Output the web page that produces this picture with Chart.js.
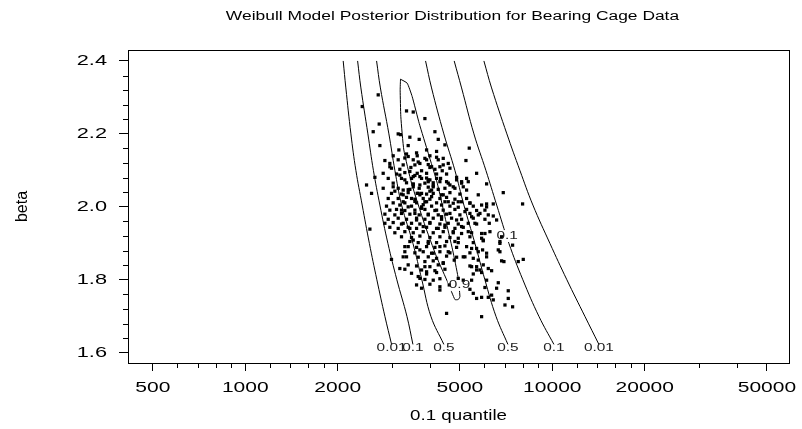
<!DOCTYPE html>
<html>
<head>
<meta charset="utf-8">
<script src="https://cdn.jsdelivr.net/npm/chart.js@4.4.1/dist/chart.umd.min.js"></script>
<style>
  html, body { margin: 0; padding: 0; background: #fff; }
  #wrap { width: 802px; height: 429px; }
</style>
</head>
<body>
<div id="wrap"><canvas id="myChart" width="802" height="429"></canvas></div>
<script>
// axis ticks
const majorQuantiles = [500, 1000, 2000, 5000, 10000, 20000, 50000];
const minorQuantiles = [600, 700, 800, 900, 1200, 1400, 1600, 1800, 3000, 4000,
  6000, 7000, 8000, 9000, 12000, 14000, 16000, 18000, 30000, 40000];
const majorBetas = [1.6, 1.8, 2.0, 2.2, 2.4];
const minorBetas = [1.64, 1.68, 1.72, 1.76, 1.84, 1.88, 1.92, 1.96,
  2.04, 2.08, 2.12, 2.16, 2.24, 2.28, 2.32, 2.36];

// open contours, read at these beta levels
const contourBeta = [2.4, 2.326, 2.2, 2.1, 2.005, 1.9, 1.8, 1.7, 1.623];
const leftQ001 = [2084, 2126, 2208, 2292, 2403, 2536, 2683, 2849, 2996];
const leftQ01 = [2322, 2380, 2508, 2614, 2744, 2914, 3117, 3361, 3516];
const leftQ05 = [2677, 2755, 2936, 3071, 3230, 3516, 3759, 4022, 4433];
const rightQ05 = [3865, 4043, 4433, 4816, 5152, 5597, 6032, 6554, 7167];
const rightQ01 = [4791, 5064, 5555, 6077, 6589, 7220, 8019, 9043, 10119];
const rightQ001 = [5987, 6342, 7113, 7841, 8644, 9820, 11155, 12766, 14182];

// closed 0.9 contour
const ring90Q = [3203, 3368, 3497, 3685, 3944, 4219, 4469, 4734, 4927, 5001,
  4939, 4817, 4582, 4198, 3827, 3479, 3284, 3211, 3195, 3203];
const ring90Beta = [2.350, 2.339, 2.302, 2.229, 2.147, 2.065, 1.973, 1.882, 1.809, 1.754,
  1.746, 1.746, 1.790, 1.863, 1.955, 2.065, 2.156, 2.247, 2.320, 2.350];

// contour labels
const labelText = ["0.01", "0.1", "0.5", "0.5", "0.1", "0.01", "0.9", "0.1"];
const labelQ = [2996, 3516, 4433, 7167, 10119, 14182, 4985, 7129];
const labelBeta = [1.613, 1.613, 1.613, 1.613, 1.613, 1.613, 1.786, 1.920];

// posterior draws
const drawQ = [
  2710, 2404, 3351, 3524, 3846, 2730, 2610, 4146, 3148, 3203, 3436, 3685, 4251, 2744, 3393, 4469, 5364,
  3164, 3895, 3032, 3351, 3631, 3993, 4198, 5232, 2849, 3148, 3524, 3895, 4413, 2957, 3268, 3704, 4582,
  2994, 3187, 3462, 3993, 4146, 4304, 4640, 2813, 3109, 3309, 3631, 3895, 4198, 4525, 2921, 3227, 3479, 3751, 3993, 4326, 4878, 5258, 5324,
  3032, 3351, 3524, 3846, 4094, 4582, 5064, 2483, 4757, 2813, 3148, 3436, 3685, 3944, 4251, 4469, 2578, 2994, 3227, 3393, 3631, 3895, 4094, 4640, 5001, 6109, 6922,
  2921, 3148, 3351, 3568, 3798, 3993, 4304, 4525, 4817, 5258, 3032, 3268, 3613, 3895, 4198, 4469, 4757, 5064, 5391,
  2884, 3187, 3479, 3751, 4044, 4358, 4640, 4939, 5528, 5884, 6109, 6422, 8002, 2957, 3109, 3309, 3568, 3846, 4146, 4413, 4817, 5258, 5668, 6033,
  2849, 3070, 3227, 3436, 3685, 3944, 4251, 4525, 5001, 5391, 5739, 6186, 6422, 2921, 3148, 3351, 3613, 3846, 4094, 4358, 4698, 5064, 5528, 6033,
  2849, 3032, 3227, 3479, 3704, 3993, 4304, 4582, 4939, 5324, 5668, 6233, 2546, 2957, 3148, 3393, 3613, 3895, 4198, 4469, 4817, 5128,
  3070, 3309, 3524, 3798, 4094, 4413, 4757, 5064, 5459, 6033, 3227, 3479, 3704, 3993, 4304, 4640, 4939, 5391, 5884,
  3436, 3658, 3944, 4198, 4525, 4939, 5528, 5958, 6751, 7424, 3393, 3613, 3895, 4146, 4469, 4878, 5258, 5668, 5928, 6668,
  3309, 3568, 3798, 4044, 4304, 4640, 5391, 5739, 6109, 6751, 3268, 3658, 3944, 4198, 4525, 4878, 5193, 5528, 6109,
  2994, 3846, 4094, 4413, 4793, 6836, 6957, 8042, 7745, 3393, 3613, 3993, 4251, 5391, 5668, 5958, 3187, 3309, 3751, 4146, 4469, 5668, 6186, 6343,
  3479, 3895, 4198, 5528, 5884, 3704, 3846, 4094, 4304, 4939, 5128, 6109, 3613, 3993, 4304, 4617, 6668, 3751, 4304, 5391, 6033, 6585, 5528, 6343, 7186, 6186, 5884, 5668, 6422, 7186, 7011, 7424, 4525, 5884,
  3309, 3524, 3704, 3944, 4094, 4304, 4640, 4817, 5064, 5258, 5668, 5739, 3268, 3479, 3658, 3846, 4044, 4413, 4582, 4939, 5391,
  3227, 3393, 3568, 3751, 3944, 4198, 4358, 4640, 4878, 5193, 5459, 5811, 6109,
  3268, 3436, 3613, 3798, 3993, 4251, 4469, 4757, 5064, 5324, 5597, 5884, 6264, 6585, 6836,
  3309, 3524, 3704, 3944, 4094, 4304, 4582, 4817, 5128, 5459, 5739, 5958, 6751, 3351, 3846, 4413, 5459, 5811, 3658, 3895, 5459,
  2957, 3393, 3568, 3846, 4044, 4251, 4413, 3187, 3704, 3944, 4198, 4525, 4878, 5128, 3032, 3268, 3524, 3751, 4044, 4358,
  3309, 3613, 4198, 3658, 3944, 3436, 3751, 4380, 3568, 3895, 2643, 3524, 4094, 3070, 3393, 3993, 3704, 3309, 3568, 3798
];
const drawBeta = [
  2.307, 2.275, 2.263, 2.260, 2.242, 2.227, 2.206, 2.206, 2.200, 2.198, 2.191, 2.185, 2.185, 2.168, 2.168, 2.170, 2.161,
  2.156, 2.156, 2.140, 2.145, 2.140, 2.140, 2.136, 2.127, 2.127, 2.129, 2.129, 2.129, 2.133, 2.119, 2.115, 2.119, 2.119,
  2.106, 2.103, 2.108, 2.108, 2.103, 2.110, 2.106, 2.092, 2.090, 2.094, 2.092, 2.092, 2.090, 2.090, 2.078, 2.078, 2.078, 2.078, 2.074, 2.078, 2.081, 2.078, 2.069,
  2.065, 2.066, 2.063, 2.065, 2.066, 2.065, 2.069, 2.060, 2.055, 2.051, 2.051, 2.048, 2.051, 2.054, 2.048, 2.051, 2.037, 2.037, 2.035, 2.039, 2.037, 2.035, 2.037, 2.039, 2.035, 2.063, 2.039,
  2.023, 2.023, 2.026, 2.021, 2.023, 2.021, 2.023, 2.026, 2.021, 2.023, 2.011, 2.014, 2.011, 2.014, 2.011, 2.014, 2.010, 2.014, 2.011,
  2.002, 2.005, 2.002, 2.000, 2.002, 2.005, 2.002, 1.999, 2.002, 2.005, 2.008, 2.008, 2.008, 1.991, 1.993, 1.990, 1.991, 1.993, 1.990, 1.991, 1.993, 1.993, 1.990, 1.991,
  1.980, 1.978, 1.982, 1.980, 1.978, 1.980, 1.978, 1.980, 1.978, 1.982, 1.978, 1.978, 1.975, 1.966, 1.969, 1.966, 1.969, 1.966, 1.969, 1.966, 1.969, 1.966, 1.969, 1.966,
  1.955, 1.957, 1.953, 1.955, 1.953, 1.957, 1.953, 1.955, 1.953, 1.955, 1.953, 1.955, 1.939, 1.944, 1.941, 1.944, 1.941, 1.944, 1.941, 1.944, 1.941, 1.944,
  1.929, 1.932, 1.929, 1.932, 1.929, 1.932, 1.929, 1.927, 1.929, 1.927, 1.918, 1.916, 1.920, 1.916, 1.918, 1.916, 1.914, 1.918, 1.914,
  1.905, 1.902, 1.905, 1.902, 1.905, 1.902, 1.902, 1.907, 1.905, 1.895, 1.891, 1.889, 1.891, 1.889, 1.893, 1.889, 1.891, 1.886, 1.882, 1.882,
  1.877, 1.874, 1.877, 1.873, 1.877, 1.874, 1.874, 1.877, 1.873, 1.877, 1.863, 1.862, 1.863, 1.859, 1.865, 1.862, 1.863, 1.859, 1.863,
  1.856, 1.850, 1.852, 1.847, 1.854, 1.852, 1.850, 1.856, 1.850, 1.841, 1.838, 1.836, 1.841, 1.838, 1.836, 1.841, 1.831, 1.829, 1.827, 1.825, 1.829, 1.827, 1.831, 1.825,
  1.818, 1.816, 1.820, 1.816, 1.820, 1.804, 1.801, 1.799, 1.803, 1.804, 1.799, 1.799, 1.786, 1.788, 1.781, 1.786, 1.792, 1.777, 1.772, 1.774, 1.779, 1.777, 1.763, 1.758, 1.770, 1.752, 1.752, 1.749, 1.745, 1.749, 1.731, 1.726, 1.708, 1.699,
  2.074, 2.083, 2.060, 2.074, 2.055, 2.069, 2.060, 2.051, 2.065, 2.046, 2.092, 2.033, 2.033, 2.023, 2.037, 2.014, 2.028, 2.033, 2.014, 2.014, 2.010,
  1.991, 2.000, 1.982, 1.996, 1.978, 1.991, 1.973, 1.982, 1.964, 1.987, 1.973, 1.982, 2.000,
  1.955, 1.941, 1.964, 1.946, 1.955, 1.941, 1.950, 1.932, 1.946, 1.932, 1.955, 1.927, 1.932, 1.964, 1.918,
  1.891, 1.909, 1.882, 1.900, 1.873, 1.891, 1.877, 1.905, 1.863, 1.886, 1.854, 1.909, 1.900, 1.863, 1.836, 1.845, 1.836, 1.827, 1.809, 1.822, 1.799,
  2.110, 2.138, 2.115, 2.133, 2.110, 2.129, 2.115, 2.087, 2.083, 2.069, 2.078, 2.069, 2.074, 2.055, 2.055, 2.046, 2.055, 2.037, 2.046, 2.033,
  2.134, 2.148, 2.152, 2.123, 2.116, 2.097, 2.099, 2.099, 2.086, 2.079, 2.081, 2.061, 2.059, 2.043, 2.047, 2.043, 2.033, 2.011, 2.015, 2.006
];

const FONT = "'Liberation Sans', Arial, Helvetica, sans-serif";
Chart.defaults.font.family = FONT;
Chart.defaults.color = "#000";

const toPoints = (qs, bs) => qs.map((q, i) => ({ x: q, y: bs[i] }));

const contourLine = (qs, bs, tension) => ({
  data: toPoints(qs, bs),
  showLine: true,
  borderColor: "#000",
  borderWidth: 1,
  pointRadius: 0,
  tension: tension,
  fill: false,
});

// horizontal text in the original is drawn wide, so stretch it
function wideText(ctx, text, x, y, align, size, stretch, color) {
  ctx.save();
  ctx.font = size + "px " + FONT;
  ctx.fillStyle = color || "#000";
  ctx.textAlign = align;
  ctx.textBaseline = "middle";
  ctx.translate(x, y);
  ctx.scale(stretch, 1);
  ctx.fillText(text, 0, 0);
  ctx.restore();
}

// frame on all four sides, minor ticks, tick labels and titles
const frameAndText = {
  id: "frameAndText",
  afterDraw(chart) {
    const { ctx, chartArea: a, scales } = chart;
    ctx.save();
    ctx.strokeStyle = "#000";
    ctx.lineWidth = 1;
    ctx.strokeRect(Math.round(a.left) + 0.5, Math.round(a.top) + 0.5,
      Math.round(a.right - a.left), Math.round(a.bottom - a.top));
    ctx.beginPath();
    minorQuantiles.forEach((q) => {
      const px = Math.round(scales.x.getPixelForValue(q)) + 0.5;
      ctx.moveTo(px, a.bottom);
      ctx.lineTo(px, a.bottom + 5);
    });
    minorBetas.forEach((b) => {
      const py = Math.round(scales.y.getPixelForValue(b)) + 0.5;
      ctx.moveTo(a.left, py);
      ctx.lineTo(a.left - 5, py);
    });
    ctx.stroke();
    ctx.restore();

    majorQuantiles.forEach((q) => {
      wideText(ctx, String(q), scales.x.getPixelForValue(q), a.bottom + 25, "center", 15, 1.4);
    });
    majorBetas.forEach((b) => {
      wideText(ctx, b.toFixed(1), a.left - 21, scales.y.getPixelForValue(b), "right", 15, 1.45);
    });
    const cx = (a.left + a.right) / 2;
    wideText(ctx, "0.1 quantile", cx, a.bottom + 53, "center", 15, 1.25);
    wideText(ctx, "Weibull Model Posterior Distribution for Bearing Cage Data", cx - 6, 17, "center", 12, 1.45);
  },
};

// contour level labels, with a white gap for the ones sitting on a line
const contourLabels = {
  id: "contourLabels",
  beforeDatasetDraw(chart, args) {
    if (args.index !== 0) return;
    const { ctx, scales } = chart;
    ctx.save();
    ctx.font = "11px " + FONT;
    ctx.fillStyle = "#fff";
    labelText.forEach((t, i) => {
      if (labelBeta[i] < 1.7) return;
      const x = scales.x.getPixelForValue(labelQ[i]);
      const y = scales.y.getPixelForValue(labelBeta[i]);
      const w = ctx.measureText(t).width * 1.4;
      ctx.fillRect(x - w / 2 - 1, y - 6, w + 2, 12);
    });
    ctx.restore();
  },
  afterDatasetsDraw(chart) {
    const { ctx, scales } = chart;
    labelText.forEach((t, i) => {
      wideText(ctx, t, scales.x.getPixelForValue(labelQ[i]), scales.y.getPixelForValue(labelBeta[i]), "center", 11, 1.4, "#222");
    });
  },
};

const ctx = document.getElementById("myChart").getContext("2d");

new Chart(ctx, {
  type: "scatter",
  plugins: [frameAndText, contourLabels],
  data: {
    datasets: [
      {
        data: toPoints(drawQ, drawBeta),
        backgroundColor: "#000",
        borderWidth: 0,
        pointStyle: "rect",
        pointRadius: 2.3,
      },
      contourLine(leftQ001, contourBeta, 0.4),
      contourLine(leftQ01, contourBeta, 0.4),
      contourLine(leftQ05, contourBeta, 0.4),
      contourLine(rightQ05, contourBeta, 0.4),
      contourLine(rightQ01, contourBeta, 0.4),
      contourLine(rightQ001, contourBeta, 0.4),
      contourLine(ring90Q, ring90Beta, 0.15),
    ],
  },
  options: {
    responsive: false,
    animation: false,
    events: [],
    layout: { padding: { left: 0, right: 13, top: 50, bottom: 0 } },
    plugins: {
      legend: { display: false },
      tooltip: { enabled: false },
      title: { display: false },
    },
    scales: {
      x: {
        type: "logarithmic",
        position: "bottom",
        min: 415,
        max: 59000,
        afterBuildTicks: (scale) => {
          scale.ticks = majorQuantiles.map((v) => ({ value: v, major: true }));
        },
        afterFit: (scale) => {
          scale.height = 66;
        },
        ticks: { display: false, autoSkip: false },
        grid: { drawOnChartArea: false, drawTicks: true, tickLength: 8, tickColor: "#000" },
        border: { display: true, color: "#000" },
      },
      y: {
        type: "linear",
        position: "left",
        min: 1.572,
        max: 2.43,
        afterBuildTicks: (scale) => {
          scale.ticks = majorBetas.map((v) => ({ value: v }));
        },
        afterFit: (scale) => {
          scale.width = 128;
        },
        ticks: { display: false, autoSkip: false },
        grid: { drawOnChartArea: false, drawTicks: true, tickLength: 9, tickColor: "#000" },
        border: { display: true, color: "#000" },
        title: {
          display: true,
          text: "beta",
          font: { size: 16 },
          color: "#000",
          padding: { top: 13, bottom: 0 },
        },
      },
    },
  },
});
</script>
</body>
</html>
